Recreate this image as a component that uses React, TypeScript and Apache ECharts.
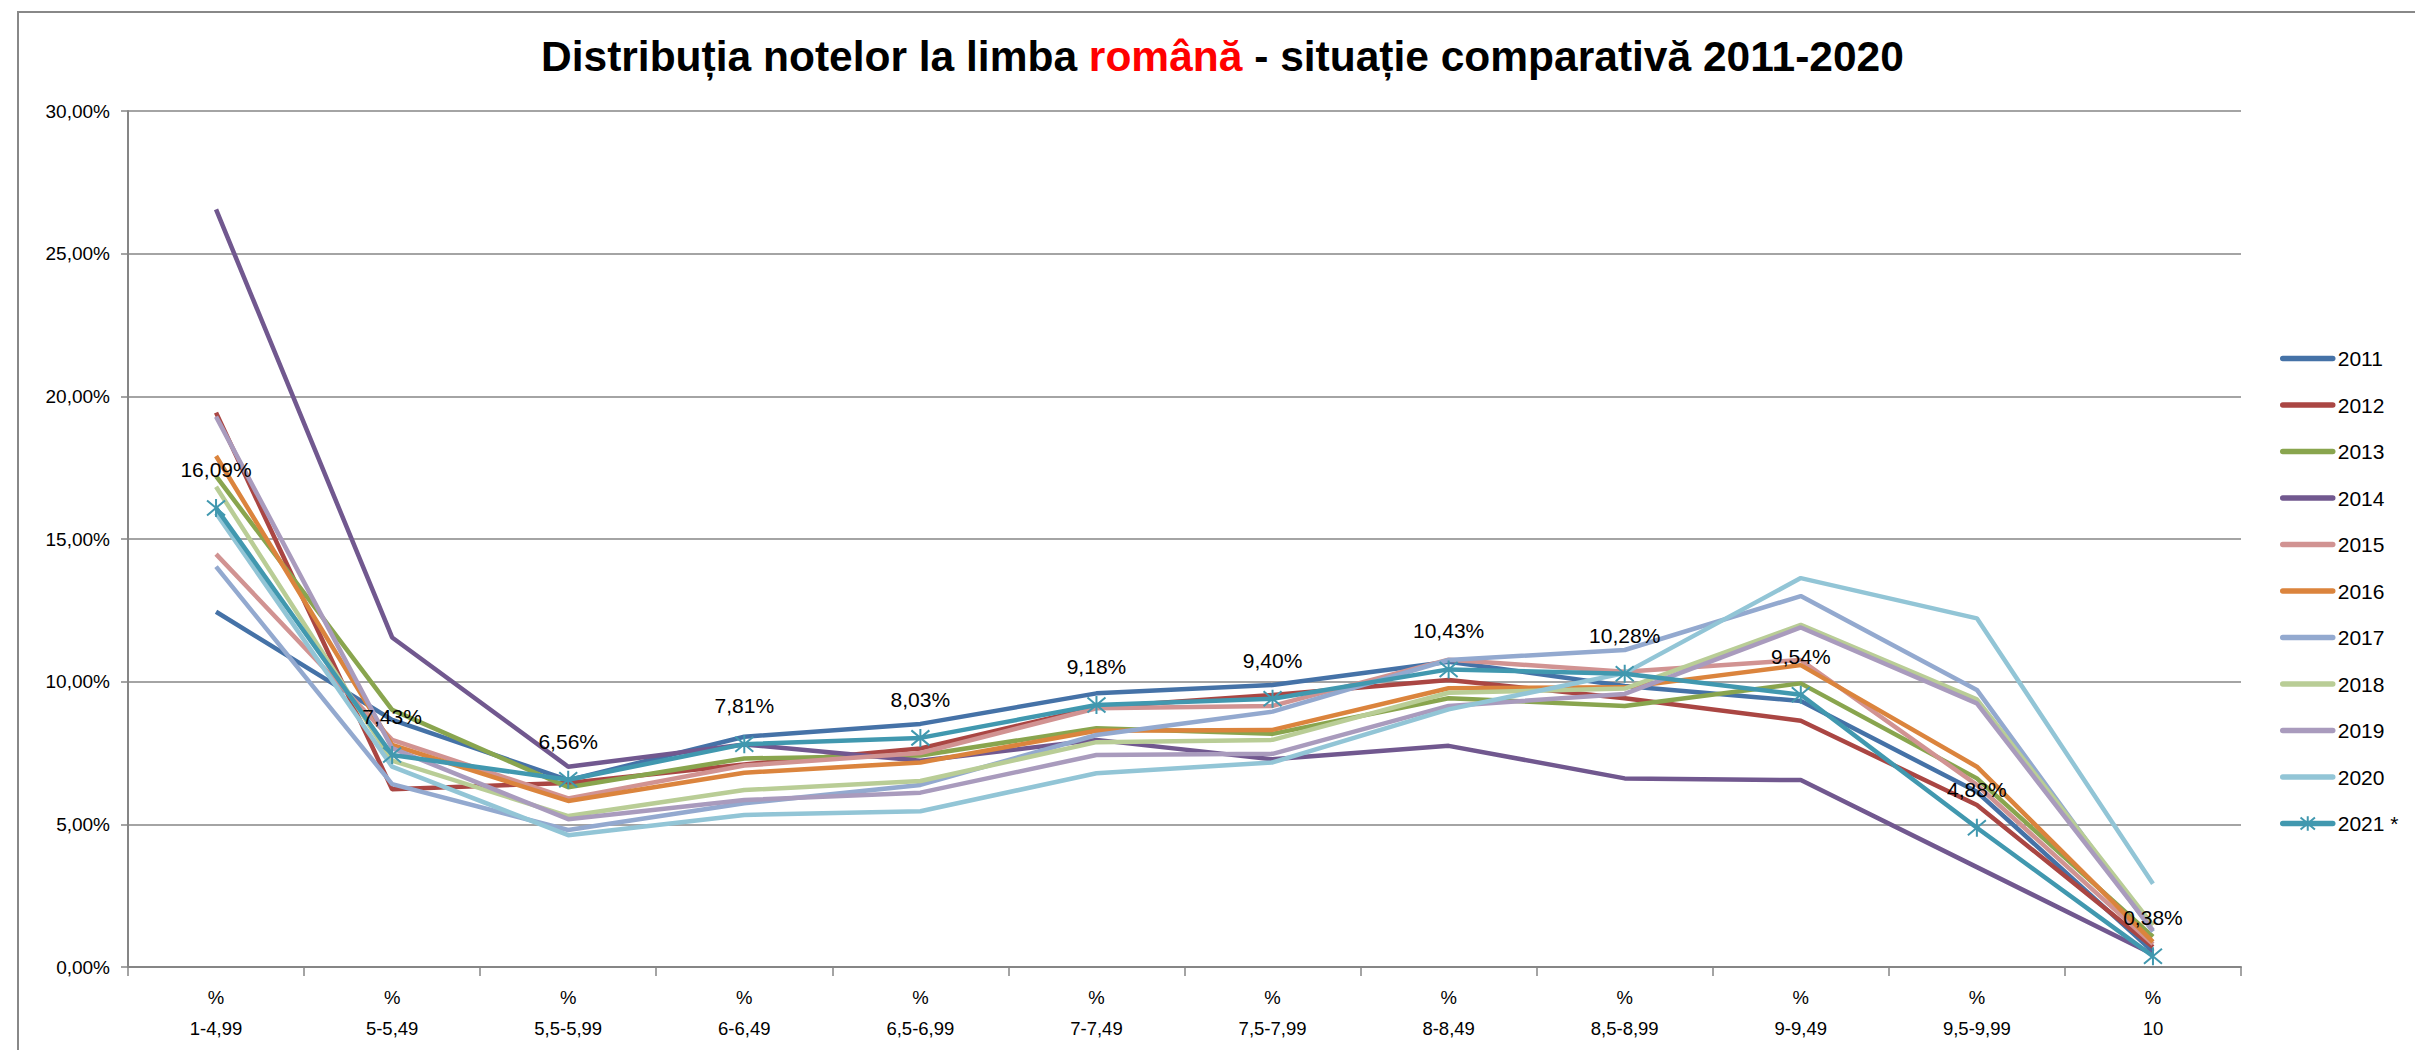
import React, { useEffect, useRef } from "react";
import * as echarts from "echarts";

const categories = ["1-4,99", "5-5,49", "5,5-5,99", "6-6,49", "6,5-6,99", "7-7,49", "7,5-7,99", "8-8,49", "8,5-8,99", "9-9,49", "9,5-9,99", "10"];

const years = ["2011", "2012", "2013", "2014", "2015", "2016", "2017", "2018", "2019", "2020", "2021 *"];

const v2011 = [12.45, 8.66, 6.55, 8.07, 8.52, 9.59, 9.88, 10.70, 9.85, 9.32, 6.14, 0.54];
const v2012 = [19.43, 6.23, 6.45, 7.1, 7.66, 9.1, 9.53, 10.06, 9.42, 8.63, 5.68, 0.7];
const v2013 = [17.2, 9.01, 6.3, 7.31, 7.41, 8.37, 8.17, 9.42, 9.15, 9.94, 6.61, 1.06];
const v2014 = [26.55, 11.55, 7.02, 7.8, 7.23, 7.96, 7.28, 7.75, 6.61, 6.55, 3.5, 0.45];
const v2015 = [14.47, 7.96, 5.91, 7.06, 7.5, 9.07, 9.15, 10.77, 10.35, 10.76, 6.38, 0.8];
const v2016 = [17.91, 7.78, 5.82, 6.81, 7.17, 8.28, 8.31, 9.77, 9.8, 10.58, 7.02, 0.88];
const v2017 = [14.03, 6.41, 4.8, 5.74, 6.38, 8.13, 8.95, 10.76, 11.11, 13.0, 9.71, 1.24];
const v2018 = [16.83, 7.23, 5.29, 6.2, 6.52, 7.88, 7.96, 9.61, 9.76, 11.99, 9.38, 1.46];
const v2019 = [19.29, 7.67, 5.18, 5.85, 6.11, 7.43, 7.47, 9.15, 9.57, 11.9, 9.24, 1.28];
const v2020 = [15.9, 7.02, 4.62, 5.33, 5.46, 6.79, 7.17, 9.03, 10.3, 13.63, 12.22, 2.92];
const v2021 = [16.09, 7.43, 6.56, 7.81, 8.03, 9.18, 9.40, 10.43, 10.28, 9.54, 4.88, 0.38];

const seriesValues = [v2011, v2012, v2013, v2014, v2015, v2016, v2017, v2018, v2019, v2020, v2021];

const colors = ["#4572A7", "#AA4643", "#89A54E", "#71588F", "#D19392", "#DB843D", "#93A9CF", "#B9CD96", "#A99BBD", "#92C5D6", "#4198AF"];

const FONT = "'Liberation Sans', Arial, sans-serif";
const fmtPct = (v: number) => v.toFixed(2).replace(".", ",") + "%";

export default function App() {
  const ref = useRef<HTMLDivElement>(null);
  useEffect(() => {
    if (!ref.current) return;
    const chart = echarts.init(ref.current, undefined, { renderer: "svg" });
    const series: any[] = seriesValues.map((vals, i) => {
      const isLast = i === seriesValues.length - 1;
      const s: any = {
        name: years[i],
        type: "line",
        data: vals,
        z: 2 + i,
        lineStyle: { color: colors[i], width: 4.5 },
        itemStyle: { color: "transparent" },
        symbol: "none",
      };
      if (isLast) {
        s.symbol = "path://M0,0L10,10M10,0L0,10M5,-1L5,11";
        s.symbolSize = 18;
        s.showSymbol = true;
        s.itemStyle = { color: "transparent", borderColor: colors[i], borderWidth: 2 };
        s.label = {
          show: true,
          position: "top",
          distance: 18,
          formatter: (p: any) => fmtPct(p.value),
          color: "#000",
          fontSize: 21,
          fontFamily: FONT,
        };
      }
      return s;
    });
    chart.setOption({
      animation: false,
      backgroundColor: "#fff",
      title: {
        left: 536,
        top: 30,
        text: "{a|Distribuția notelor la limba }{r|română}{a| - situație comparativă 2011-2020}",
        textStyle: {
          rich: {
            a: { fontSize: 42.5, fontWeight: "bold", color: "#000", fontFamily: FONT },
            r: { fontSize: 42.5, fontWeight: "bold", color: "#FF0000", fontFamily: FONT },
          },
        },
      },
      graphic: [
        {
          type: "rect",
          shape: { x: 18, y: 12, width: 2450, height: 1100 },
          style: { fill: "none", stroke: "#888", lineWidth: 2 },
          silent: true,
        },
      ],
      legend: {
        orient: "vertical",
        left: 2275,
        top: 343,
        itemWidth: 50,
        itemHeight: 18,
        itemGap: 25.5,
        data: years,
        lineStyle: { width: 5.5, cap: "round" },
        textStyle: { fontSize: 21, color: "#000", fontFamily: FONT },
      },
      grid: { left: 128, right: 174, top: 111, bottom: 83 },
      xAxis: {
        type: "category",
        data: categories,
        boundaryGap: true,
        axisLine: { lineStyle: { color: "#868686", width: 2 } },
        axisTick: { show: true, length: 9, lineStyle: { color: "#868686", width: 1.5 } },
        axisLabel: {
          interval: 0,
          formatter: (v: string) => "%\n" + v,
          fontSize: 18.5,
          lineHeight: 31,
          margin: 15,
          color: "#000",
          fontFamily: FONT,
        },
      },
      yAxis: {
        type: "value",
        min: 0,
        max: 30,
        interval: 5,
        axisLine: { show: true, lineStyle: { color: "#868686", width: 2 } },
        axisTick: { show: true, length: 7, lineStyle: { color: "#868686", width: 1.5 } },
        axisLabel: {
          formatter: (v: number) => fmtPct(v),
          fontSize: 19,
          margin: 18,
          color: "#000",
          fontFamily: FONT,
        },
        splitLine: { lineStyle: { color: "#868686", width: 1.5 } },
      },
      series,
    });
    return () => chart.dispose();
  }, []);
  return <div ref={ref} style={{ width: 2415, height: 1050, position: "absolute", left: 0, top: 0 }} />;
}
